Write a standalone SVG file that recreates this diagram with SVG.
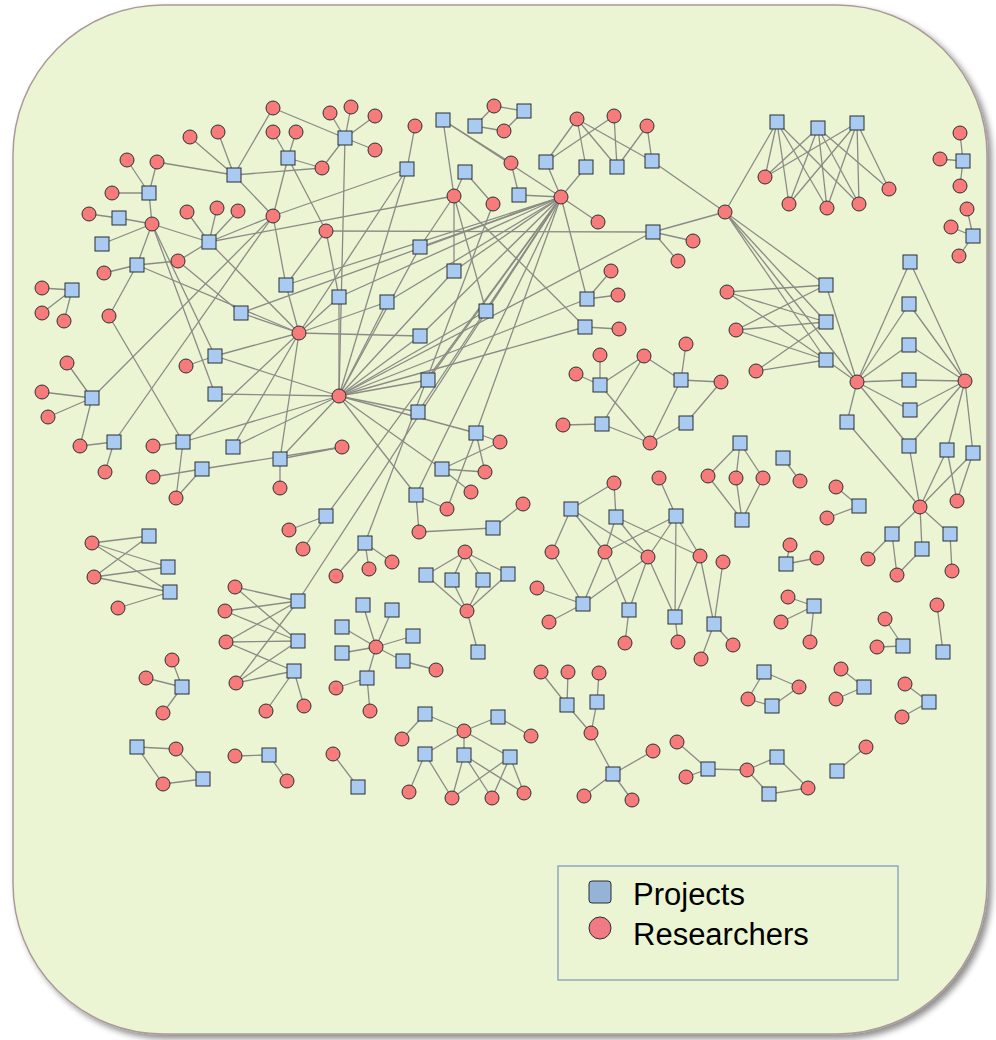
<svg xmlns="http://www.w3.org/2000/svg" width="996" height="1040" viewBox="0 0 996 1040">
<defs>
<style>
.e line{stroke:#8b8b85;stroke-width:1.3;fill:none}
.p rect{fill:#a9cbf1;stroke:#2b2f33;stroke-width:1}
.r circle{fill:#f77b7b;stroke:#2b2f33;stroke-width:1}
.lg{font-family:"Liberation Sans",Arial,sans-serif;font-size:31px;fill:#000}
</style>
<filter id="drop" x="-5%" y="-5%" width="112%" height="112%">
<feGaussianBlur in="SourceAlpha" stdDeviation="3"/>
<feOffset dx="4" dy="4" result="o"/>
<feComponentTransfer><feFuncA type="linear" slope="0.45"/></feComponentTransfer>
<feMerge><feMergeNode/><feMergeNode in="SourceGraphic"/></feMerge>
</filter>
</defs>
<rect width="996" height="1040" fill="#ffffff"/>
<rect x="13" y="5" width="974" height="1029" rx="150" ry="150" fill="#ebf5d3" stroke="#ab9a98" stroke-width="1.5" filter="url(#drop)"/>

<g id="connectors" class="e">
<!-- upper left component -->
<line x1="345" y1="138" x2="273" y2="108"/><line x1="345" y1="138" x2="330" y2="113"/><line x1="345" y1="138" x2="351" y2="107"/><line x1="345" y1="138" x2="375" y2="116"/><line x1="345" y1="138" x2="375" y2="150"/><line x1="345" y1="138" x2="322" y2="168"/><line x1="345" y1="138" x2="339" y2="396"/>
<line x1="288" y1="158" x2="273" y2="132"/><line x1="288" y1="158" x2="296" y2="132"/><line x1="288" y1="158" x2="322" y2="168"/><line x1="288" y1="158" x2="273" y2="216"/><line x1="288" y1="158" x2="326" y2="231"/>
<line x1="234" y1="175" x2="273" y2="108"/><line x1="234" y1="175" x2="190" y2="137"/><line x1="234" y1="175" x2="218" y2="132"/><line x1="234" y1="175" x2="157" y2="162"/><line x1="234" y1="175" x2="322" y2="168"/><line x1="234" y1="175" x2="273" y2="216"/>
<line x1="149" y1="193" x2="127" y2="160"/><line x1="149" y1="193" x2="157" y2="162"/><line x1="149" y1="193" x2="112" y2="193"/><line x1="149" y1="193" x2="152" y2="224"/>
<line x1="119" y1="218" x2="89" y2="214"/><line x1="119" y1="218" x2="152" y2="224"/>
<line x1="102" y1="244" x2="152" y2="224"/>
<line x1="209" y1="242" x2="152" y2="224"/><line x1="209" y1="242" x2="187" y2="212"/><line x1="209" y1="242" x2="217" y2="208"/><line x1="209" y1="242" x2="238" y2="211"/><line x1="209" y1="242" x2="178" y2="261"/><line x1="209" y1="242" x2="273" y2="216"/><line x1="209" y1="242" x2="299" y2="333"/><line x1="209" y1="242" x2="454" y2="196"/>
<line x1="137" y1="265" x2="152" y2="224"/><line x1="137" y1="265" x2="104" y2="273"/><line x1="137" y1="265" x2="178" y2="261"/><line x1="137" y1="265" x2="109" y2="316"/><line x1="137" y1="265" x2="299" y2="333"/>
<line x1="286" y1="285" x2="299" y2="333"/><line x1="286" y1="285" x2="273" y2="216"/><line x1="286" y1="285" x2="326" y2="231"/><line x1="286" y1="285" x2="561" y2="197"/>
<line x1="339" y1="297" x2="326" y2="231"/><line x1="339" y1="297" x2="299" y2="333"/><line x1="339" y1="297" x2="339" y2="396"/><line x1="339" y1="297" x2="561" y2="197"/>
<line x1="241" y1="313" x2="178" y2="261"/><line x1="241" y1="313" x2="299" y2="333"/><line x1="241" y1="313" x2="561" y2="197"/>
<line x1="72" y1="290" x2="42" y2="288"/><line x1="72" y1="290" x2="42" y2="313"/><line x1="72" y1="290" x2="64" y2="321"/>
<line x1="443" y1="120" x2="454" y2="196"/><line x1="443" y1="120" x2="511" y2="163"/><line x1="443" y1="120" x2="561" y2="197"/>
<line x1="475" y1="126" x2="494" y2="106"/><line x1="475" y1="126" x2="504" y2="131"/>
<line x1="524" y1="111" x2="494" y2="106"/><line x1="524" y1="111" x2="504" y2="131"/>
<line x1="407" y1="169" x2="415" y2="126"/><line x1="407" y1="169" x2="273" y2="216"/><line x1="407" y1="169" x2="339" y2="396"/><line x1="407" y1="169" x2="299" y2="333"/>
<line x1="465" y1="172" x2="454" y2="196"/><line x1="465" y1="172" x2="493" y2="204"/>
<line x1="519" y1="195" x2="511" y2="163"/><line x1="519" y1="195" x2="561" y2="197"/>
<line x1="546" y1="162" x2="577" y2="119"/><line x1="546" y1="162" x2="614" y2="116"/><line x1="546" y1="162" x2="561" y2="197"/>
<line x1="586" y1="167" x2="577" y2="119"/><line x1="586" y1="167" x2="561" y2="197"/>
<line x1="617" y1="167" x2="614" y2="116"/><line x1="617" y1="167" x2="647" y2="126"/><line x1="617" y1="167" x2="577" y2="119"/>
<line x1="652" y1="161" x2="647" y2="126"/><line x1="652" y1="161" x2="577" y2="119"/><line x1="652" y1="161" x2="725" y2="212"/>
<line x1="561" y1="197" x2="598" y2="222"/>
<line x1="653" y1="232" x2="326" y2="231"/><line x1="653" y1="232" x2="693" y2="241"/><line x1="653" y1="232" x2="678" y2="261"/><line x1="653" y1="232" x2="725" y2="212"/><line x1="653" y1="232" x2="339" y2="396"/>
<line x1="420" y1="247" x2="454" y2="196"/><line x1="420" y1="247" x2="339" y2="396"/><line x1="420" y1="247" x2="561" y2="197"/>
<line x1="454" y1="271" x2="454" y2="196"/><line x1="454" y1="271" x2="339" y2="396"/><line x1="454" y1="271" x2="561" y2="197"/>
<line x1="387" y1="302" x2="339" y2="396"/><line x1="387" y1="302" x2="299" y2="333"/><line x1="387" y1="302" x2="561" y2="197"/>
<line x1="486" y1="311" x2="454" y2="196"/><line x1="486" y1="311" x2="339" y2="396"/><line x1="486" y1="311" x2="561" y2="197"/>
<line x1="587" y1="299" x2="611" y2="271"/><line x1="587" y1="299" x2="618" y2="295"/><line x1="587" y1="299" x2="561" y2="197"/><line x1="587" y1="299" x2="339" y2="396"/>
<line x1="585" y1="327" x2="619" y2="329"/><line x1="585" y1="327" x2="454" y2="196"/><line x1="585" y1="327" x2="339" y2="396"/>
<line x1="420" y1="336" x2="339" y2="396"/><line x1="420" y1="336" x2="299" y2="333"/><line x1="420" y1="336" x2="561" y2="197"/>
<line x1="428" y1="380" x2="339" y2="396"/><line x1="428" y1="380" x2="561" y2="197"/>
<line x1="418" y1="412" x2="339" y2="396"/><line x1="418" y1="412" x2="561" y2="197"/>
<line x1="476" y1="433" x2="500" y2="442"/><line x1="476" y1="433" x2="485" y2="472"/><line x1="476" y1="433" x2="447" y2="509"/><line x1="476" y1="433" x2="339" y2="396"/><line x1="476" y1="433" x2="561" y2="197"/>
<line x1="442" y1="469" x2="500" y2="442"/><line x1="442" y1="469" x2="485" y2="472"/><line x1="442" y1="469" x2="471" y2="492"/><line x1="442" y1="469" x2="339" y2="396"/>
<line x1="416" y1="495" x2="419" y2="532"/><line x1="416" y1="495" x2="447" y2="509"/><line x1="416" y1="495" x2="339" y2="396"/><line x1="416" y1="495" x2="561" y2="197"/>
<line x1="493" y1="528" x2="419" y2="532"/><line x1="493" y1="528" x2="523" y2="504"/>
<line x1="365" y1="543" x2="336" y2="576"/><line x1="365" y1="543" x2="369" y2="569"/><line x1="365" y1="543" x2="392" y2="562"/><line x1="365" y1="543" x2="493" y2="204"/>
<line x1="326" y1="516" x2="289" y2="530"/><line x1="326" y1="516" x2="303" y2="549"/><line x1="326" y1="516" x2="561" y2="197"/>
<line x1="215" y1="356" x2="152" y2="224"/><line x1="215" y1="356" x2="186" y2="366"/><line x1="215" y1="356" x2="299" y2="333"/><line x1="215" y1="356" x2="339" y2="396"/>
<line x1="215" y1="394" x2="152" y2="224"/><line x1="215" y1="394" x2="339" y2="396"/>
<line x1="233" y1="447" x2="339" y2="396"/><line x1="233" y1="447" x2="299" y2="333"/>
<line x1="280" y1="459" x2="280" y2="488"/><line x1="280" y1="459" x2="342" y2="447"/><line x1="280" y1="459" x2="299" y2="333"/><line x1="280" y1="459" x2="339" y2="396"/>
<line x1="202" y1="469" x2="153" y2="477"/><line x1="202" y1="469" x2="176" y2="498"/><line x1="202" y1="469" x2="342" y2="447"/>
<line x1="183" y1="442" x2="153" y2="446"/><line x1="183" y1="442" x2="176" y2="498"/><line x1="183" y1="442" x2="109" y2="316"/><line x1="183" y1="442" x2="339" y2="396"/><line x1="183" y1="442" x2="299" y2="333"/>
<line x1="114" y1="442" x2="80" y2="446"/><line x1="114" y1="442" x2="105" y2="472"/><line x1="114" y1="442" x2="273" y2="216"/>
<line x1="92" y1="398" x2="67" y2="363"/><line x1="92" y1="398" x2="42" y2="392"/><line x1="92" y1="398" x2="48" y2="417"/><line x1="92" y1="398" x2="80" y2="446"/><line x1="92" y1="398" x2="273" y2="216"/>
<line x1="298" y1="601" x2="561" y2="197"/>
<!-- right side -->
<line x1="777" y1="122" x2="765" y2="177"/><line x1="777" y1="122" x2="789" y2="204"/><line x1="777" y1="122" x2="827" y2="208"/><line x1="777" y1="122" x2="859" y2="204"/><line x1="777" y1="122" x2="725" y2="212"/>
<line x1="818" y1="128" x2="765" y2="177"/><line x1="818" y1="128" x2="789" y2="204"/><line x1="818" y1="128" x2="827" y2="208"/><line x1="818" y1="128" x2="859" y2="204"/><line x1="818" y1="128" x2="889" y2="189"/>
<line x1="857" y1="123" x2="765" y2="177"/><line x1="857" y1="123" x2="789" y2="204"/><line x1="857" y1="123" x2="827" y2="208"/><line x1="857" y1="123" x2="859" y2="204"/><line x1="857" y1="123" x2="889" y2="189"/>
<line x1="963" y1="161" x2="960" y2="133"/><line x1="963" y1="161" x2="940" y2="159"/><line x1="963" y1="161" x2="960" y2="186"/>
<line x1="973" y1="236" x2="967" y2="209"/><line x1="973" y1="236" x2="951" y2="227"/><line x1="973" y1="236" x2="959" y2="256"/>
<line x1="826" y1="285" x2="727" y2="292"/><line x1="826" y1="285" x2="736" y2="330"/><line x1="826" y1="285" x2="725" y2="212"/><line x1="826" y1="285" x2="857" y2="382"/>
<line x1="826" y1="322" x2="727" y2="292"/><line x1="826" y1="322" x2="736" y2="330"/><line x1="826" y1="322" x2="756" y2="371"/><line x1="826" y1="322" x2="725" y2="212"/>
<line x1="826" y1="360" x2="727" y2="292"/><line x1="826" y1="360" x2="736" y2="330"/><line x1="826" y1="360" x2="756" y2="371"/><line x1="826" y1="360" x2="725" y2="212"/><line x1="826" y1="360" x2="857" y2="382"/>
<line x1="725" y1="212" x2="857" y2="382"/>
<line x1="910" y1="262" x2="857" y2="382"/><line x1="910" y1="262" x2="965" y2="381"/>
<line x1="909" y1="304" x2="857" y2="382"/><line x1="909" y1="304" x2="965" y2="381"/>
<line x1="909" y1="345" x2="857" y2="382"/><line x1="909" y1="345" x2="965" y2="381"/>
<line x1="909" y1="380" x2="857" y2="382"/><line x1="909" y1="380" x2="965" y2="381"/>
<line x1="910" y1="410" x2="857" y2="382"/><line x1="910" y1="410" x2="965" y2="381"/>
<line x1="847" y1="422" x2="857" y2="382"/><line x1="847" y1="422" x2="920" y2="507"/>
<line x1="909" y1="446" x2="857" y2="382"/><line x1="909" y1="446" x2="965" y2="381"/><line x1="909" y1="446" x2="920" y2="507"/>
<line x1="947" y1="450" x2="965" y2="381"/><line x1="947" y1="450" x2="920" y2="507"/><line x1="947" y1="450" x2="957" y2="501"/>
<line x1="973" y1="453" x2="965" y2="381"/><line x1="973" y1="453" x2="920" y2="507"/><line x1="973" y1="453" x2="957" y2="501"/>
<line x1="892" y1="534" x2="920" y2="507"/><line x1="892" y1="534" x2="868" y2="559"/><line x1="892" y1="534" x2="897" y2="575"/>
<line x1="922" y1="549" x2="920" y2="507"/><line x1="922" y1="549" x2="897" y2="575"/>
<line x1="950" y1="534" x2="920" y2="507"/><line x1="950" y1="534" x2="952" y2="571"/>
<line x1="600" y1="385" x2="600" y2="355"/><line x1="600" y1="385" x2="576" y2="374"/><line x1="600" y1="385" x2="644" y2="356"/><line x1="600" y1="385" x2="650" y2="443"/>
<line x1="602" y1="424" x2="563" y2="425"/><line x1="602" y1="424" x2="644" y2="356"/><line x1="602" y1="424" x2="650" y2="443"/>
<line x1="681" y1="380" x2="686" y2="344"/><line x1="681" y1="380" x2="721" y2="382"/><line x1="681" y1="380" x2="644" y2="356"/><line x1="681" y1="380" x2="650" y2="443"/>
<line x1="686" y1="423" x2="721" y2="382"/><line x1="686" y1="423" x2="650" y2="443"/>
<line x1="740" y1="443" x2="708" y2="476"/><line x1="740" y1="443" x2="736" y2="478"/><line x1="740" y1="443" x2="763" y2="478"/>
<line x1="742" y1="520" x2="708" y2="476"/><line x1="742" y1="520" x2="736" y2="478"/><line x1="742" y1="520" x2="763" y2="478"/>
<line x1="783" y1="458" x2="800" y2="481"/>
<line x1="859" y1="506" x2="836" y2="487"/><line x1="859" y1="506" x2="827" y2="518"/>
<line x1="786" y1="564" x2="790" y2="545"/><line x1="786" y1="564" x2="817" y2="558"/>
<!-- middle cluster -->
<line x1="571" y1="509" x2="614" y2="483"/><line x1="571" y1="509" x2="552" y2="552"/><line x1="571" y1="509" x2="605" y2="552"/><line x1="571" y1="509" x2="648" y2="557"/>
<line x1="616" y1="517" x2="614" y2="483"/><line x1="616" y1="517" x2="605" y2="552"/><line x1="616" y1="517" x2="648" y2="557"/><line x1="616" y1="517" x2="700" y2="556"/>
<line x1="676" y1="516" x2="659" y2="478"/><line x1="676" y1="516" x2="605" y2="552"/><line x1="676" y1="516" x2="648" y2="557"/><line x1="676" y1="516" x2="700" y2="556"/><line x1="676" y1="516" x2="675" y2="617"/>
<line x1="583" y1="604" x2="537" y2="588"/><line x1="583" y1="604" x2="549" y2="622"/><line x1="583" y1="604" x2="552" y2="552"/><line x1="583" y1="604" x2="605" y2="552"/><line x1="583" y1="604" x2="648" y2="557"/>
<line x1="629" y1="610" x2="625" y2="643"/><line x1="629" y1="610" x2="605" y2="552"/><line x1="629" y1="610" x2="648" y2="557"/>
<line x1="675" y1="617" x2="678" y2="642"/><line x1="675" y1="617" x2="700" y2="556"/><line x1="675" y1="617" x2="648" y2="557"/>
<line x1="714" y1="624" x2="701" y2="659"/><line x1="714" y1="624" x2="733" y2="645"/><line x1="714" y1="624" x2="700" y2="556"/><line x1="714" y1="624" x2="723" y2="562"/>
<!-- lower left -->
<line x1="149" y1="536" x2="92" y2="543"/><line x1="149" y1="536" x2="94" y2="577"/>
<line x1="168" y1="567" x2="92" y2="543"/><line x1="168" y1="567" x2="94" y2="577"/>
<line x1="170" y1="592" x2="92" y2="543"/><line x1="170" y1="592" x2="94" y2="577"/><line x1="170" y1="592" x2="118" y2="608"/>
<line x1="298" y1="601" x2="235" y2="587"/><line x1="298" y1="601" x2="225" y2="611"/><line x1="298" y1="601" x2="226" y2="642"/><line x1="298" y1="601" x2="236" y2="683"/>
<line x1="298" y1="641" x2="235" y2="587"/><line x1="298" y1="641" x2="225" y2="611"/><line x1="298" y1="641" x2="226" y2="642"/><line x1="298" y1="641" x2="236" y2="683"/>
<line x1="294" y1="671" x2="226" y2="642"/><line x1="294" y1="671" x2="236" y2="683"/><line x1="294" y1="671" x2="266" y2="711"/><line x1="294" y1="671" x2="304" y2="706"/>
<line x1="182" y1="687" x2="172" y2="660"/><line x1="182" y1="687" x2="146" y2="678"/><line x1="182" y1="687" x2="163" y2="713"/>
<line x1="137" y1="747" x2="176" y2="749"/><line x1="137" y1="747" x2="163" y2="784"/>
<line x1="203" y1="779" x2="176" y2="749"/><line x1="203" y1="779" x2="163" y2="784"/>
<line x1="269" y1="755" x2="235" y2="756"/><line x1="269" y1="755" x2="287" y2="781"/>
<line x1="358" y1="787" x2="333" y2="754"/>
<line x1="376" y1="647" x2="363" y2="605"/><line x1="376" y1="647" x2="392" y2="610"/><line x1="376" y1="647" x2="342" y2="627"/><line x1="376" y1="647" x2="342" y2="653"/><line x1="376" y1="647" x2="413" y2="636"/><line x1="376" y1="647" x2="403" y2="661"/><line x1="376" y1="647" x2="367" y2="678"/>
<line x1="403" y1="661" x2="436" y2="670"/><line x1="367" y1="678" x2="336" y2="688"/><line x1="367" y1="678" x2="370" y2="711"/>
<line x1="465" y1="552" x2="426" y2="575"/><line x1="465" y1="552" x2="452" y2="580"/><line x1="465" y1="552" x2="483" y2="580"/><line x1="465" y1="552" x2="508" y2="574"/>
<line x1="467" y1="611" x2="426" y2="575"/><line x1="467" y1="611" x2="452" y2="580"/><line x1="467" y1="611" x2="483" y2="580"/><line x1="467" y1="611" x2="508" y2="574"/><line x1="467" y1="611" x2="478" y2="652"/>
<line x1="464" y1="731" x2="425" y2="714"/><line x1="464" y1="731" x2="498" y2="717"/><line x1="464" y1="731" x2="425" y2="754"/><line x1="464" y1="731" x2="464" y2="755"/><line x1="464" y1="731" x2="510" y2="757"/>
<line x1="425" y1="714" x2="402" y2="739"/><line x1="498" y1="717" x2="531" y2="736"/>
<line x1="425" y1="754" x2="409" y2="792"/><line x1="425" y1="754" x2="452" y2="798"/>
<line x1="464" y1="755" x2="452" y2="798"/><line x1="464" y1="755" x2="492" y2="798"/><line x1="464" y1="755" x2="524" y2="793"/>
<line x1="510" y1="757" x2="452" y2="798"/><line x1="510" y1="757" x2="492" y2="798"/><line x1="510" y1="757" x2="524" y2="793"/>
<line x1="567" y1="705" x2="541" y2="672"/><line x1="567" y1="705" x2="568" y2="672"/><line x1="567" y1="705" x2="591" y2="733"/>
<line x1="597" y1="702" x2="599" y2="673"/><line x1="597" y1="702" x2="591" y2="733"/>
<line x1="613" y1="774" x2="591" y2="733"/><line x1="613" y1="774" x2="653" y2="751"/><line x1="613" y1="774" x2="584" y2="796"/><line x1="613" y1="774" x2="632" y2="800"/>
<!-- lower right -->
<line x1="814" y1="606" x2="788" y2="597"/><line x1="814" y1="606" x2="781" y2="622"/><line x1="814" y1="606" x2="810" y2="642"/>
<line x1="903" y1="646" x2="885" y2="619"/><line x1="903" y1="646" x2="877" y2="647"/>
<line x1="943" y1="652" x2="937" y2="605"/>
<line x1="764" y1="672" x2="748" y2="699"/><line x1="764" y1="672" x2="799" y2="687"/>
<line x1="772" y1="706" x2="748" y2="699"/><line x1="772" y1="706" x2="799" y2="687"/>
<line x1="864" y1="687" x2="841" y2="669"/><line x1="864" y1="687" x2="836" y2="699"/>
<line x1="929" y1="702" x2="905" y2="684"/><line x1="929" y1="702" x2="902" y2="717"/>
<line x1="708" y1="769" x2="677" y2="742"/><line x1="708" y1="769" x2="686" y2="777"/><line x1="708" y1="769" x2="747" y2="770"/>
<line x1="777" y1="757" x2="747" y2="770"/><line x1="777" y1="757" x2="808" y2="788"/>
<line x1="769" y1="794" x2="747" y2="770"/><line x1="769" y1="794" x2="808" y2="788"/>
<line x1="837" y1="771" x2="866" y2="747"/>
</g>

<g class="p">
<g id="prj-1"><rect x="338" y="131" width="14" height="14"/></g>
<g id="prj-2"><rect x="281" y="151" width="14" height="14"/></g>
<g id="prj-3"><rect x="227" y="168" width="14" height="14"/></g>
<g id="prj-4"><rect x="142" y="186" width="14" height="14"/></g>
<g id="prj-5"><rect x="112" y="211" width="14" height="14"/></g>
<g id="prj-6"><rect x="95" y="237" width="14" height="14"/></g>
<g id="prj-7"><rect x="202" y="235" width="14" height="14"/></g>
<g id="prj-8"><rect x="130" y="258" width="14" height="14"/></g>
<g id="prj-9"><rect x="279" y="278" width="14" height="14"/></g>
<g id="prj-10"><rect x="332" y="290" width="14" height="14"/></g>
<g id="prj-11"><rect x="234" y="306" width="14" height="14"/></g>
<g id="prj-12"><rect x="65" y="283" width="14" height="14"/></g>
<g id="prj-13"><rect x="436" y="113" width="14" height="14"/></g>
<g id="prj-14"><rect x="468" y="119" width="14" height="14"/></g>
<g id="prj-15"><rect x="517" y="104" width="14" height="14"/></g>
<g id="prj-16"><rect x="400" y="162" width="14" height="14"/></g>
<g id="prj-17"><rect x="458" y="165" width="14" height="14"/></g>
<g id="prj-18"><rect x="512" y="188" width="14" height="14"/></g>
<g id="prj-19"><rect x="539" y="155" width="14" height="14"/></g>
<g id="prj-20"><rect x="579" y="160" width="14" height="14"/></g>
<g id="prj-21"><rect x="610" y="160" width="14" height="14"/></g>
<g id="prj-22"><rect x="645" y="154" width="14" height="14"/></g>
<g id="prj-23"><rect x="646" y="225" width="14" height="14"/></g>
<g id="prj-24"><rect x="413" y="240" width="14" height="14"/></g>
<g id="prj-25"><rect x="447" y="264" width="14" height="14"/></g>
<g id="prj-26"><rect x="380" y="295" width="14" height="14"/></g>
<g id="prj-27"><rect x="479" y="304" width="14" height="14"/></g>
<g id="prj-28"><rect x="580" y="292" width="14" height="14"/></g>
<g id="prj-29"><rect x="578" y="320" width="14" height="14"/></g>
<g id="prj-30"><rect x="413" y="329" width="14" height="14"/></g>
<g id="prj-31"><rect x="421" y="373" width="14" height="14"/></g>
<g id="prj-32"><rect x="411" y="405" width="14" height="14"/></g>
<g id="prj-33"><rect x="469" y="426" width="14" height="14"/></g>
<g id="prj-34"><rect x="435" y="462" width="14" height="14"/></g>
<g id="prj-35"><rect x="409" y="488" width="14" height="14"/></g>
<g id="prj-36"><rect x="486" y="521" width="14" height="14"/></g>
<g id="prj-37"><rect x="358" y="536" width="14" height="14"/></g>
<g id="prj-38"><rect x="319" y="509" width="14" height="14"/></g>
<g id="prj-39"><rect x="208" y="349" width="14" height="14"/></g>
<g id="prj-40"><rect x="208" y="387" width="14" height="14"/></g>
<g id="prj-41"><rect x="226" y="440" width="14" height="14"/></g>
<g id="prj-42"><rect x="273" y="452" width="14" height="14"/></g>
<g id="prj-43"><rect x="195" y="462" width="14" height="14"/></g>
<g id="prj-44"><rect x="176" y="435" width="14" height="14"/></g>
<g id="prj-45"><rect x="107" y="435" width="14" height="14"/></g>
<g id="prj-46"><rect x="85" y="391" width="14" height="14"/></g>
<g id="prj-47"><rect x="770" y="115" width="14" height="14"/></g>
<g id="prj-48"><rect x="811" y="121" width="14" height="14"/></g>
<g id="prj-49"><rect x="850" y="116" width="14" height="14"/></g>
<g id="prj-50"><rect x="956" y="154" width="14" height="14"/></g>
<g id="prj-51"><rect x="966" y="229" width="14" height="14"/></g>
<g id="prj-52"><rect x="819" y="278" width="14" height="14"/></g>
<g id="prj-53"><rect x="819" y="315" width="14" height="14"/></g>
<g id="prj-54"><rect x="819" y="353" width="14" height="14"/></g>
<g id="prj-55"><rect x="903" y="255" width="14" height="14"/></g>
<g id="prj-56"><rect x="902" y="297" width="14" height="14"/></g>
<g id="prj-57"><rect x="902" y="338" width="14" height="14"/></g>
<g id="prj-58"><rect x="902" y="373" width="14" height="14"/></g>
<g id="prj-59"><rect x="903" y="403" width="14" height="14"/></g>
<g id="prj-60"><rect x="840" y="415" width="14" height="14"/></g>
<g id="prj-61"><rect x="902" y="439" width="14" height="14"/></g>
<g id="prj-62"><rect x="940" y="443" width="14" height="14"/></g>
<g id="prj-63"><rect x="966" y="446" width="14" height="14"/></g>
<g id="prj-64"><rect x="885" y="527" width="14" height="14"/></g>
<g id="prj-65"><rect x="915" y="542" width="14" height="14"/></g>
<g id="prj-66"><rect x="943" y="527" width="14" height="14"/></g>
<g id="prj-67"><rect x="593" y="378" width="14" height="14"/></g>
<g id="prj-68"><rect x="595" y="417" width="14" height="14"/></g>
<g id="prj-69"><rect x="674" y="373" width="14" height="14"/></g>
<g id="prj-70"><rect x="679" y="416" width="14" height="14"/></g>
<g id="prj-71"><rect x="733" y="436" width="14" height="14"/></g>
<g id="prj-72"><rect x="735" y="513" width="14" height="14"/></g>
<g id="prj-73"><rect x="776" y="451" width="14" height="14"/></g>
<g id="prj-74"><rect x="852" y="499" width="14" height="14"/></g>
<g id="prj-75"><rect x="779" y="557" width="14" height="14"/></g>
<g id="prj-76"><rect x="564" y="502" width="14" height="14"/></g>
<g id="prj-77"><rect x="609" y="510" width="14" height="14"/></g>
<g id="prj-78"><rect x="669" y="509" width="14" height="14"/></g>
<g id="prj-79"><rect x="576" y="597" width="14" height="14"/></g>
<g id="prj-80"><rect x="622" y="603" width="14" height="14"/></g>
<g id="prj-81"><rect x="668" y="610" width="14" height="14"/></g>
<g id="prj-82"><rect x="707" y="617" width="14" height="14"/></g>
<g id="prj-83"><rect x="142" y="529" width="14" height="14"/></g>
<g id="prj-84"><rect x="161" y="560" width="14" height="14"/></g>
<g id="prj-85"><rect x="163" y="585" width="14" height="14"/></g>
<g id="prj-86"><rect x="291" y="594" width="14" height="14"/></g>
<g id="prj-87"><rect x="291" y="634" width="14" height="14"/></g>
<g id="prj-88"><rect x="287" y="664" width="14" height="14"/></g>
<g id="prj-89"><rect x="175" y="680" width="14" height="14"/></g>
<g id="prj-90"><rect x="130" y="740" width="14" height="14"/></g>
<g id="prj-91"><rect x="196" y="772" width="14" height="14"/></g>
<g id="prj-92"><rect x="262" y="748" width="14" height="14"/></g>
<g id="prj-93"><rect x="351" y="780" width="14" height="14"/></g>
<g id="prj-94"><rect x="356" y="598" width="14" height="14"/></g>
<g id="prj-95"><rect x="385" y="603" width="14" height="14"/></g>
<g id="prj-96"><rect x="335" y="620" width="14" height="14"/></g>
<g id="prj-97"><rect x="335" y="646" width="14" height="14"/></g>
<g id="prj-98"><rect x="406" y="629" width="14" height="14"/></g>
<g id="prj-99"><rect x="396" y="654" width="14" height="14"/></g>
<g id="prj-100"><rect x="360" y="671" width="14" height="14"/></g>
<g id="prj-101"><rect x="419" y="568" width="14" height="14"/></g>
<g id="prj-102"><rect x="445" y="573" width="14" height="14"/></g>
<g id="prj-103"><rect x="476" y="573" width="14" height="14"/></g>
<g id="prj-104"><rect x="501" y="567" width="14" height="14"/></g>
<g id="prj-105"><rect x="471" y="645" width="14" height="14"/></g>
<g id="prj-106"><rect x="418" y="707" width="14" height="14"/></g>
<g id="prj-107"><rect x="491" y="710" width="14" height="14"/></g>
<g id="prj-108"><rect x="418" y="747" width="14" height="14"/></g>
<g id="prj-109"><rect x="457" y="748" width="14" height="14"/></g>
<g id="prj-110"><rect x="503" y="750" width="14" height="14"/></g>
<g id="prj-111"><rect x="560" y="698" width="14" height="14"/></g>
<g id="prj-112"><rect x="590" y="695" width="14" height="14"/></g>
<g id="prj-113"><rect x="606" y="767" width="14" height="14"/></g>
<g id="prj-114"><rect x="807" y="599" width="14" height="14"/></g>
<g id="prj-115"><rect x="896" y="639" width="14" height="14"/></g>
<g id="prj-116"><rect x="936" y="645" width="14" height="14"/></g>
<g id="prj-117"><rect x="757" y="665" width="14" height="14"/></g>
<g id="prj-118"><rect x="765" y="699" width="14" height="14"/></g>
<g id="prj-119"><rect x="857" y="680" width="14" height="14"/></g>
<g id="prj-120"><rect x="922" y="695" width="14" height="14"/></g>
<g id="prj-121"><rect x="701" y="762" width="14" height="14"/></g>
<g id="prj-122"><rect x="770" y="750" width="14" height="14"/></g>
<g id="prj-123"><rect x="762" y="787" width="14" height="14"/></g>
<g id="prj-124"><rect x="830" y="764" width="14" height="14"/></g>
</g>

<g class="r">
<g id="res-1"><circle cx="273" cy="108" r="7"/></g>
<g id="res-2"><circle cx="330" cy="113" r="7"/></g>
<g id="res-3"><circle cx="351" cy="107" r="7"/></g>
<g id="res-4"><circle cx="190" cy="137" r="7"/></g>
<g id="res-5"><circle cx="218" cy="132" r="7"/></g>
<g id="res-6"><circle cx="273" cy="132" r="7"/></g>
<g id="res-7"><circle cx="296" cy="132" r="7"/></g>
<g id="res-8"><circle cx="375" cy="116" r="7"/></g>
<g id="res-9"><circle cx="375" cy="150" r="7"/></g>
<g id="res-10"><circle cx="127" cy="160" r="7"/></g>
<g id="res-11"><circle cx="157" cy="162" r="7"/></g>
<g id="res-12"><circle cx="322" cy="168" r="7"/></g>
<g id="res-13"><circle cx="112" cy="193" r="7"/></g>
<g id="res-14"><circle cx="89" cy="214" r="7"/></g>
<g id="res-15"><circle cx="152" cy="224" r="7"/></g>
<g id="res-16"><circle cx="187" cy="212" r="7"/></g>
<g id="res-17"><circle cx="217" cy="208" r="7"/></g>
<g id="res-18"><circle cx="238" cy="211" r="7"/></g>
<g id="res-19"><circle cx="273" cy="216" r="7"/></g>
<g id="res-20"><circle cx="326" cy="231" r="7"/></g>
<g id="res-21"><circle cx="178" cy="261" r="7"/></g>
<g id="res-22"><circle cx="104" cy="273" r="7"/></g>
<g id="res-23"><circle cx="109" cy="316" r="7"/></g>
<g id="res-24"><circle cx="299" cy="333" r="7"/></g>
<g id="res-25"><circle cx="42" cy="288" r="7"/></g>
<g id="res-26"><circle cx="42" cy="313" r="7"/></g>
<g id="res-27"><circle cx="64" cy="321" r="7"/></g>
<g id="res-28"><circle cx="415" cy="126" r="7"/></g>
<g id="res-29"><circle cx="494" cy="106" r="7"/></g>
<g id="res-30"><circle cx="504" cy="131" r="7"/></g>
<g id="res-31"><circle cx="577" cy="119" r="7"/></g>
<g id="res-32"><circle cx="614" cy="116" r="7"/></g>
<g id="res-33"><circle cx="647" cy="126" r="7"/></g>
<g id="res-34"><circle cx="511" cy="163" r="7"/></g>
<g id="res-35"><circle cx="454" cy="196" r="7"/></g>
<g id="res-36"><circle cx="493" cy="204" r="7"/></g>
<g id="res-37"><circle cx="561" cy="197" r="7"/></g>
<g id="res-38"><circle cx="598" cy="222" r="7"/></g>
<g id="res-39"><circle cx="611" cy="271" r="7"/></g>
<g id="res-40"><circle cx="618" cy="295" r="7"/></g>
<g id="res-41"><circle cx="619" cy="329" r="7"/></g>
<g id="res-42"><circle cx="693" cy="241" r="7"/></g>
<g id="res-43"><circle cx="678" cy="261" r="7"/></g>
<g id="res-44"><circle cx="725" cy="212" r="7"/></g>
<g id="res-45"><circle cx="765" cy="177" r="7"/></g>
<g id="res-46"><circle cx="789" cy="204" r="7"/></g>
<g id="res-47"><circle cx="827" cy="208" r="7"/></g>
<g id="res-48"><circle cx="859" cy="204" r="7"/></g>
<g id="res-49"><circle cx="889" cy="189" r="7"/></g>
<g id="res-50"><circle cx="960" cy="133" r="7"/></g>
<g id="res-51"><circle cx="940" cy="159" r="7"/></g>
<g id="res-52"><circle cx="960" cy="186" r="7"/></g>
<g id="res-53"><circle cx="967" cy="209" r="7"/></g>
<g id="res-54"><circle cx="951" cy="227" r="7"/></g>
<g id="res-55"><circle cx="959" cy="256" r="7"/></g>
<g id="res-56"><circle cx="727" cy="292" r="7"/></g>
<g id="res-57"><circle cx="736" cy="330" r="7"/></g>
<g id="res-58"><circle cx="756" cy="371" r="7"/></g>
<g id="res-59"><circle cx="857" cy="382" r="7"/></g>
<g id="res-60"><circle cx="965" cy="381" r="7"/></g>
<g id="res-61"><circle cx="920" cy="507" r="7"/></g>
<g id="res-62"><circle cx="957" cy="501" r="7"/></g>
<g id="res-63"><circle cx="868" cy="559" r="7"/></g>
<g id="res-64"><circle cx="897" cy="575" r="7"/></g>
<g id="res-65"><circle cx="952" cy="571" r="7"/></g>
<g id="res-66"><circle cx="339" cy="396" r="7"/></g>
<g id="res-67"><circle cx="186" cy="366" r="7"/></g>
<g id="res-68"><circle cx="342" cy="447" r="7"/></g>
<g id="res-69"><circle cx="280" cy="488" r="7"/></g>
<g id="res-70"><circle cx="153" cy="446" r="7"/></g>
<g id="res-71"><circle cx="153" cy="477" r="7"/></g>
<g id="res-72"><circle cx="176" cy="498" r="7"/></g>
<g id="res-73"><circle cx="289" cy="530" r="7"/></g>
<g id="res-74"><circle cx="303" cy="549" r="7"/></g>
<g id="res-75"><circle cx="336" cy="576" r="7"/></g>
<g id="res-76"><circle cx="369" cy="569" r="7"/></g>
<g id="res-77"><circle cx="392" cy="562" r="7"/></g>
<g id="res-78"><circle cx="500" cy="442" r="7"/></g>
<g id="res-79"><circle cx="485" cy="472" r="7"/></g>
<g id="res-80"><circle cx="471" cy="492" r="7"/></g>
<g id="res-81"><circle cx="447" cy="509" r="7"/></g>
<g id="res-82"><circle cx="419" cy="532" r="7"/></g>
<g id="res-83"><circle cx="523" cy="504" r="7"/></g>
<g id="res-84"><circle cx="67" cy="363" r="7"/></g>
<g id="res-85"><circle cx="42" cy="392" r="7"/></g>
<g id="res-86"><circle cx="48" cy="417" r="7"/></g>
<g id="res-87"><circle cx="80" cy="446" r="7"/></g>
<g id="res-88"><circle cx="105" cy="472" r="7"/></g>
<g id="res-89"><circle cx="600" cy="355" r="7"/></g>
<g id="res-90"><circle cx="576" cy="374" r="7"/></g>
<g id="res-91"><circle cx="644" cy="356" r="7"/></g>
<g id="res-92"><circle cx="563" cy="425" r="7"/></g>
<g id="res-93"><circle cx="650" cy="443" r="7"/></g>
<g id="res-94"><circle cx="686" cy="344" r="7"/></g>
<g id="res-95"><circle cx="721" cy="382" r="7"/></g>
<g id="res-96"><circle cx="708" cy="476" r="7"/></g>
<g id="res-97"><circle cx="736" cy="478" r="7"/></g>
<g id="res-98"><circle cx="763" cy="478" r="7"/></g>
<g id="res-99"><circle cx="800" cy="481" r="7"/></g>
<g id="res-100"><circle cx="836" cy="487" r="7"/></g>
<g id="res-101"><circle cx="827" cy="518" r="7"/></g>
<g id="res-102"><circle cx="790" cy="545" r="7"/></g>
<g id="res-103"><circle cx="817" cy="558" r="7"/></g>
<g id="res-104"><circle cx="614" cy="483" r="7"/></g>
<g id="res-105"><circle cx="659" cy="478" r="7"/></g>
<g id="res-106"><circle cx="552" cy="552" r="7"/></g>
<g id="res-107"><circle cx="605" cy="552" r="7"/></g>
<g id="res-108"><circle cx="648" cy="557" r="7"/></g>
<g id="res-109"><circle cx="700" cy="556" r="7"/></g>
<g id="res-110"><circle cx="723" cy="562" r="7"/></g>
<g id="res-111"><circle cx="537" cy="588" r="7"/></g>
<g id="res-112"><circle cx="549" cy="622" r="7"/></g>
<g id="res-113"><circle cx="625" cy="643" r="7"/></g>
<g id="res-114"><circle cx="678" cy="642" r="7"/></g>
<g id="res-115"><circle cx="701" cy="659" r="7"/></g>
<g id="res-116"><circle cx="733" cy="645" r="7"/></g>
<g id="res-117"><circle cx="92" cy="543" r="7"/></g>
<g id="res-118"><circle cx="94" cy="577" r="7"/></g>
<g id="res-119"><circle cx="118" cy="608" r="7"/></g>
<g id="res-120"><circle cx="235" cy="587" r="7"/></g>
<g id="res-121"><circle cx="225" cy="611" r="7"/></g>
<g id="res-122"><circle cx="226" cy="642" r="7"/></g>
<g id="res-123"><circle cx="236" cy="683" r="7"/></g>
<g id="res-124"><circle cx="266" cy="711" r="7"/></g>
<g id="res-125"><circle cx="304" cy="706" r="7"/></g>
<g id="res-126"><circle cx="172" cy="660" r="7"/></g>
<g id="res-127"><circle cx="146" cy="678" r="7"/></g>
<g id="res-128"><circle cx="163" cy="713" r="7"/></g>
<g id="res-129"><circle cx="176" cy="749" r="7"/></g>
<g id="res-130"><circle cx="163" cy="784" r="7"/></g>
<g id="res-131"><circle cx="235" cy="756" r="7"/></g>
<g id="res-132"><circle cx="287" cy="781" r="7"/></g>
<g id="res-133"><circle cx="333" cy="754" r="7"/></g>
<g id="res-134"><circle cx="376" cy="647" r="7"/></g>
<g id="res-135"><circle cx="436" cy="670" r="7"/></g>
<g id="res-136"><circle cx="370" cy="711" r="7"/></g>
<g id="res-137"><circle cx="336" cy="688" r="7"/></g>
<g id="res-138"><circle cx="465" cy="552" r="7"/></g>
<g id="res-139"><circle cx="467" cy="611" r="7"/></g>
<g id="res-140"><circle cx="464" cy="731" r="7"/></g>
<g id="res-141"><circle cx="402" cy="739" r="7"/></g>
<g id="res-142"><circle cx="531" cy="736" r="7"/></g>
<g id="res-143"><circle cx="409" cy="792" r="7"/></g>
<g id="res-144"><circle cx="452" cy="798" r="7"/></g>
<g id="res-145"><circle cx="492" cy="798" r="7"/></g>
<g id="res-146"><circle cx="524" cy="793" r="7"/></g>
<g id="res-147"><circle cx="541" cy="672" r="7"/></g>
<g id="res-148"><circle cx="568" cy="672" r="7"/></g>
<g id="res-149"><circle cx="599" cy="673" r="7"/></g>
<g id="res-150"><circle cx="591" cy="733" r="7"/></g>
<g id="res-151"><circle cx="653" cy="751" r="7"/></g>
<g id="res-152"><circle cx="584" cy="796" r="7"/></g>
<g id="res-153"><circle cx="632" cy="800" r="7"/></g>
<g id="res-154"><circle cx="788" cy="597" r="7"/></g>
<g id="res-155"><circle cx="781" cy="622" r="7"/></g>
<g id="res-156"><circle cx="810" cy="642" r="7"/></g>
<g id="res-157"><circle cx="885" cy="619" r="7"/></g>
<g id="res-158"><circle cx="877" cy="647" r="7"/></g>
<g id="res-159"><circle cx="937" cy="605" r="7"/></g>
<g id="res-160"><circle cx="748" cy="699" r="7"/></g>
<g id="res-161"><circle cx="799" cy="687" r="7"/></g>
<g id="res-162"><circle cx="841" cy="669" r="7"/></g>
<g id="res-163"><circle cx="836" cy="699" r="7"/></g>
<g id="res-164"><circle cx="905" cy="684" r="7"/></g>
<g id="res-165"><circle cx="902" cy="717" r="7"/></g>
<g id="res-166"><circle cx="677" cy="742" r="7"/></g>
<g id="res-167"><circle cx="686" cy="777" r="7"/></g>
<g id="res-168"><circle cx="747" cy="770" r="7"/></g>
<g id="res-169"><circle cx="808" cy="788" r="7"/></g>
<g id="res-170"><circle cx="866" cy="747" r="7"/></g>
</g>

<g id="legend">
<rect x="558" y="866" width="340" height="114" fill="none" stroke="#7d93b5" stroke-width="1.2"/>
<rect x="589" y="881" width="22" height="22" rx="3" fill="#95b3d7" stroke="#2b2f33" stroke-width="1"/>
<circle cx="600" cy="928" r="11" fill="#f07a84" stroke="#2b2f33" stroke-width="1"/>
<text class="lg" x="633" y="905">Projects</text>
<text class="lg" x="633" y="945">Researchers</text>
</g>
</svg>
